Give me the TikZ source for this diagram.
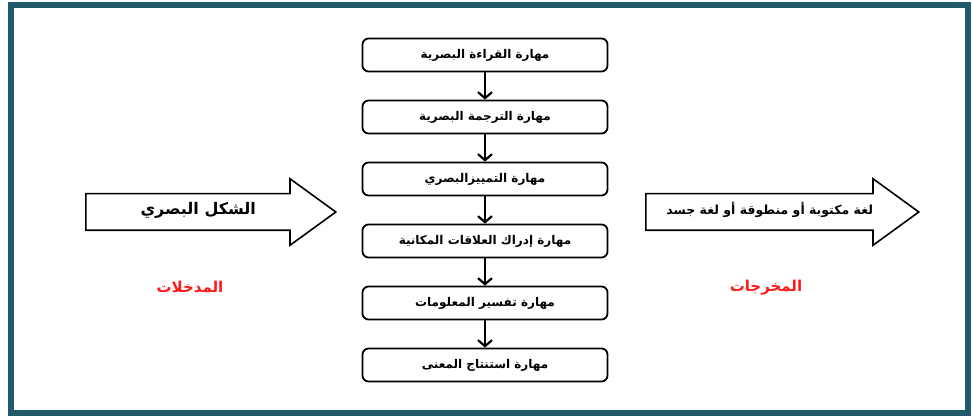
\documentclass[tikz,border=0pt]{standalone}
\usepackage{fontspec}
\usepackage{tikz}
\usetikzlibrary{shapes.arrows,arrows.meta}
\TeXXeTstate=1
\newfontfamily\arabicfont[Script=Arabic]{DejaVu Sans}
\definecolor{framecol}{HTML}{1F5A6A}
\definecolor{lblred}{HTML}{FF1A1A}

\begin{document}
\begin{tikzpicture}[x=1pt,y=1pt,
	main/.style = {draw, rounded corners=6pt, line width=1.8pt, minimum width=245pt, minimum height=33pt, font=\arabicfont\bfseries\fontsize{12}{14}\selectfont},
	big/.style = {draw, single arrow, line width=1.6pt, anchor=tail, text height=8pt, text depth=3pt, inner ysep=12pt, single arrow head extend=15pt, single arrow tip angle=72, font=\arabicfont\bfseries},
	lbl/.style = {text=lblred, font=\arabicfont\bfseries\fontsize{15}{17}\selectfont},
	arr/.style = {-{Straight Barb[length=6pt,width=14pt]}, line width=2.2pt},
	node distance=62pt]
	\useasboundingbox (0,0) rectangle (972,-419);
	\draw[framecol, line width=6pt] (11,-5.5) rectangle (968,-413);
	\node[main] (1) at (485,-55) {\beginR مهارة القراءة البصرية\endR};
	\node[main] (2) [below of=1] {\beginR مهارة الترجمة البصرية\endR};
	\node[main] (3) [below of=2] {\beginR مهارة التمييزالبصري\endR};
	\node[main] (4) [below of=3] {\beginR مهارة إدراك العلاقات المكانية\endR};
	\node[main] (5) [below of=4] {\beginR مهارة تفسير المعلومات\endR};
	\node[main] (6) [below of=5] {\beginR مهارة استنتاج المعنى\endR};
	\draw[arr] (1)--(2);
	\draw[arr] (2)--(3);
	\draw[arr] (3)--(4);
	\draw[arr] (4)--(5);
	\draw[arr] (5)--(6);
	\node[big, minimum height=250pt, minimum width=65pt, font=\arabicfont\bfseries\fontsize{16}{18}\selectfont] (in) at (85,-212) {\beginR الشكل البصري\endR};
	\node[big, minimum height=273pt, minimum width=66pt, font=\arabicfont\bfseries\fontsize{12.5}{14}\selectfont] (out) at (645,-212) {\beginR لغة مكتوبة أو منطوقة أو لغة جسد\endR};
	\node[lbl] (inlbl) at (190,-287) {\beginR المدخلات\endR};
	\node[lbl] (outlbl) at (766,-288) {\beginR المخرجات\endR};
\end{tikzpicture}
\end{document}
